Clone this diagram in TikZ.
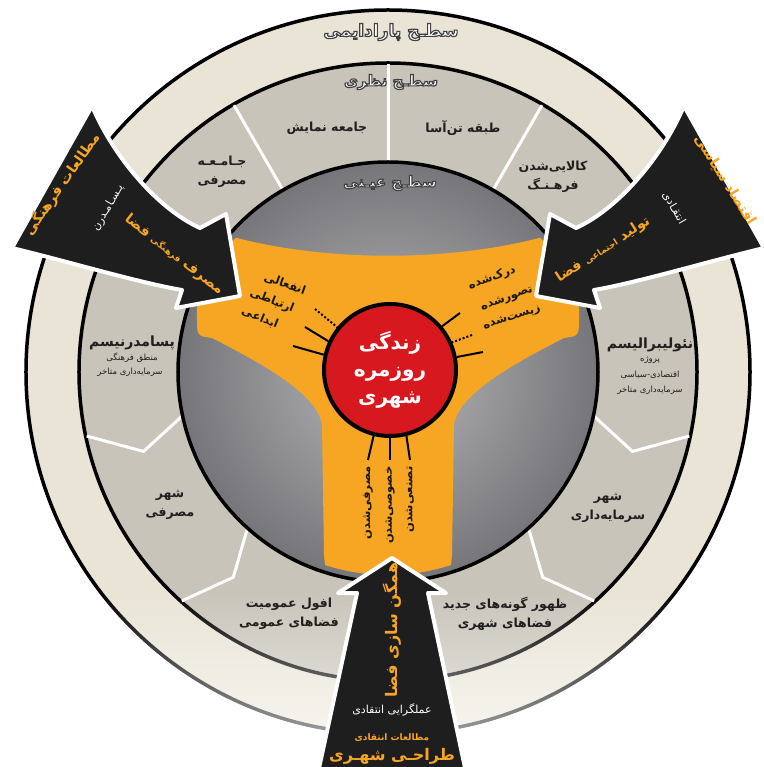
\documentclass[tikz,border=0pt]{standalone}
\usepackage{fontspec}
\usetikzlibrary{fadings}
\TeXXeTstate=1
\newfontfamily\fa[Script=Arabic]{DejaVu Sans}
\newcommand\fr[1]{\beginR#1\endR}
% stroke the glyph outlines in dark grey
\newcommand\rimon{\special{pdf:literal direct 2 Tr 0.25 0.25 0.25 RG 1.15 w}}
\newcommand\rimoff{\special{pdf:literal direct 0 Tr}}
\definecolor{cream}{HTML}{E9E4D6}
\definecolor{stone}{HTML}{C8C4BA}
\definecolor{disclo}{HTML}{76767A}
\definecolor{dischi}{HTML}{B8B8BA}
\definecolor{amber}{HTML}{F6A623}
\definecolor{crimson}{HTML}{D7191F}
\definecolor{ink}{HTML}{1E1E1E}
\tikzfading[name=fadedown,top color=transparent!100,bottom color=transparent!25]
\tikzset{
  ring/.style={line width=3.5pt},
  seg/.style={white,line width=3pt},
  lbl/.style={font=\fa\bfseries\fontsize{12.5}{19}\selectfont,text=black!88,align=center},
  big/.style={font=\fa\bfseries\fontsize{14}{16}\selectfont,text=black!88},
  note/.style={font=\fa\fontsize{8.5}{10}\selectfont,text=black!88},
  tag/.style={font=\fa\bfseries\fontsize{11.5}{14}\selectfont,text=black!90},
  lead/.style={line width=2pt},
  shaft/.style={fill=ink,draw=white,line width=4pt,line join=round},
  gold/.style={font=\fa\bfseries\fontsize{#1}{#1}\selectfont,text=amber},
  pale/.style={font=\fa\fontsize{11}{13}\selectfont,text=white},
  lvl/.style={font=\fa\bfseries\fontsize{#1}{#1}\selectfont,text=white},
}

\begin{document}
\begin{tikzpicture}[x=1pt,y=1pt]
  \useasboundingbox (-388,-395) rectangle (375,372);
  \clip (-388,-395) rectangle (375,372);
  \fill[white] (-388,-395) rectangle (375,372);
  % rings and sectors
  \filldraw[fill=cream,ring] (0,0) circle (362);
  \filldraw[fill=stone,ring] (0,0) circle (309);
  \foreach \a in {60,90,120}{\draw[seg] (\a:210) -- (\a:308);}
  \foreach \a/\b in {192/198,-12/-18,228/233,-48/-53}{\draw[seg] (\a:210) -- (\b:257) -- (\a:308);}
  \shade[inner color=dischi,outer color=disclo] (0,0) circle (210);
  \draw[ring] (0,0) circle (210);
  \begin{scope}
    \clip (0,0) circle (203);
    \fill[amber] (-200,150) .. controls (-90,105) and (90,105) .. (200,150) -- (191,150) -- (191,55)
      .. controls (191,36) .. (176,34) .. controls (123,7) and (70,-23) .. (66,-53) -- (64,-183)
      .. controls (62,-203) .. (44,-206) .. controls (0,-209) .. (-44,-206) .. controls (-62,-203) .. (-64,-183)
      -- (-66,-53) .. controls (-70,-23) and (-123,7) .. (-176,34) .. controls (-191,36) .. (-191,55) -- (-191,150) -- cycle;
  \end{scope}
  \fill[white,path fading=fadedown] (-388,-218) rectangle (375,-395);

  \node[lvl=17] (lvlA) at (3,340) {\rimon\fr{سطـح پارادایمی}\rimoff};
  \node[lvl=15] (lvlB) at (3,290) {\rimon\fr{سطـح نظری}\rimoff};
  \node[lvl=15] (lvlC) at (2,189) {\rimon\fr{سطـح عیـنی}\rimoff};

  % sector labels
  \node[lbl] (s1) at (-166,200) {\fr{جـامـعـه}\\\fr{مصرفی}};
  \node[lbl] (s2) at (-61,244) {\fr{جامعه نمایش}};
  \node[lbl] (s3) at (75,244) {\fr{طبقه تن^^^^200cآسا}};
  \node[lbl] (s4) at (165,195) {\fr{کالایی^^^^200cشدن}\\\fr{فرهـنـگ}};
  \node[big] (s5) at (-256,29) {\fr{پسامدرنیسم}};
  \node[note] (s5a) at (-256,14) {\fr{منطق فرهنگی}};
  \node[note] (s5b) at (-258,0) {\fr{سرمایه^^^^200cداری متاخر}};
  \node[lbl] (s6) at (-218,-133) {\fr{شهر}\\\fr{مصرفی}};
  \node[lbl] (s7) at (-99,-242) {\fr{افول عمومیت}\\\fr{فضاهای عمومی}};
  \node[lbl] (s8) at (117,-242) {\fr{ظهور گونه^^^^200cهای جدید}\\\fr{فضاهای شهری}};
  \node[lbl] (s9) at (220,-136) {\fr{شهر}\\\fr{سرمایه^^^^200cداری}};
  \node[big] (s10) at (262,27) {\fr{نئولیبرالیسم}};
  \node[note] (s10a) at (262,12) {\fr{پروژه}};
  \node[note] (s10b) at (262,-3) {\fr{اقتصادی-سیاسی}};
  \node[note] (s10c) at (262,-18) {\fr{سرمایه^^^^200cداری متاخر}};

  % everyday life
  \node[circle,draw,line width=4pt,fill=crimson,minimum size=132pt,inner sep=0pt,align=center,
    font=\fa\bfseries\fontsize{20}{27}\selectfont,text=white] (core) at (2,2) {\fr{زندگی}\\\fr{روزمره}\\\fr{شهری}};
  \node[tag,rotate=-20] (t1) at (-103,88) {\fr{انفعالی}};
  \node[tag,rotate=-22] (t2) at (-116,71) {\fr{ارتباطی}};
  \node[tag,rotate=-22] (t3) at (-128,54) {\fr{ابداعی}};
  \node[tag,rotate=20] (t4) at (104,94) {\fr{درک^^^^200cشده}};
  \node[tag,rotate=20] (t5) at (119,73) {\fr{تصورشده}};
  \node[tag,rotate=18] (t6) at (124,54) {\fr{زیست^^^^200cشده}};
  \node[tag,rotate=90,anchor=east] (t7) at (-20,-91) {\fr{مصرفی^^^^200cشدن}};
  \node[tag,rotate=90,anchor=east] (t8) at (2,-91) {\fr{خصوصی^^^^200cشدن}};
  \node[tag,rotate=90,anchor=east] (t9) at (22,-91) {\fr{تصنعی^^^^200cشدن}};
  \coordinate (p1) at (-73,63); \coordinate (p2) at (-83,45); \coordinate (p3) at (-95,26);
  \coordinate (p4) at (72,59);  \coordinate (p5) at (84,37);  \coordinate (p6) at (95,20);
  \coordinate (p7) at (-20,-88); \coordinate (p8) at (2,-88); \coordinate (p9) at (22,-88);
  \foreach \c/\a/\s in {p1/141/dotted,p2/155/solid,p3/167/solid,p4/40/solid,p5/24/dotted,p6/11/solid,p7/256/solid,p8/270/solid,p9/284/solid}
    {\draw[lead,\s] (\c) -- (core.\a);}

  % arrows
  \path[shaft] (-296,266) .. controls (-273,212) and (-228,162) .. (-188,144) -- (-162,158) -- (-148,76)
    -- (-212,64) -- (-206,82) .. controls (-248,89) and (-318,110) .. (-376,124) -- cycle;
  \begin{scope}[xscale=-1]
    \path[shaft] (-296,266) .. controls (-273,212) and (-228,162) .. (-188,144) -- (-162,158) -- (-148,76)
      -- (-212,64) -- (-206,82) .. controls (-248,89) and (-318,110) .. (-376,124) -- cycle;
  \end{scope}
  \path[shaft] (4,-186) -- (58,-221) -- (40,-221) -- (80,-410) -- (-72,-410) -- (-31,-221) -- (-50,-221) -- cycle;

  \node[gold=14,rotate=55] (a1) at (-326,188) {\fr{مطالعات فرهنگی}};
  \node[pale,rotate=60] (a2) at (-280,164) {\fr{پـسـامـدرن}};
  \node[gold=14,rotate=-38] (a3) at (-214,117) {\fr{مصرف {\fontsize{9}{9}\selectfont فرهنگی} فضا}};
  \node[gold=14,rotate=-58] (b1) at (337,192) {\fr{اقتصاد سیاسی}};
  \node[pale,rotate=-60] (b2) at (286,164) {\fr{انتقـادی}};
  \node[gold=14,rotate=33] (b3) at (215,122) {\fr{تولید {\fontsize{9}{9}\selectfont اجتماعی} فضا}};
  \node[gold=16,rotate=90] (c1) at (4,-258) {\fr{همگن سازی فضا}};
  \node[pale] (c2) at (4,-338) {\fr{عملگرایی انتقادی}};
  \node[gold=9] (c3) at (4,-366) {\fr{مطالعات انتقادی}};
  \node[gold=16] (c4) at (4,-384) {\fr{طراحـی شهـری}};
\end{tikzpicture}
\end{document}
